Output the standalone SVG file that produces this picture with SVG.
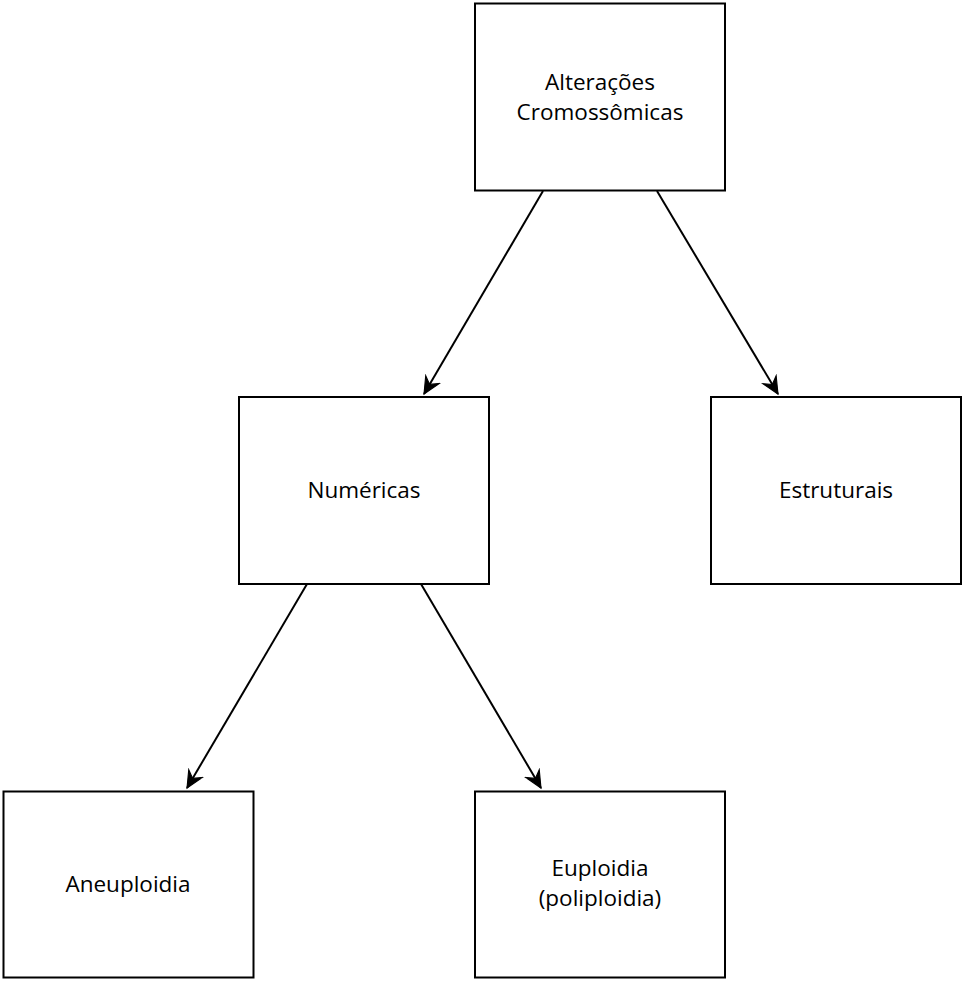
<svg xmlns="http://www.w3.org/2000/svg" width="967" height="982" viewBox="0 0 967 982">
<style>
.box{fill:#fff;stroke:#000;stroke-width:2}
.lbl{font-family:"Open Sans","Noto Sans",sans-serif;font-size:22.5px;fill:#000;text-anchor:middle}
.edge{stroke:#000;stroke-width:2;fill:none;marker-end:url(#arr)}
</style>
<defs>
<marker id="arr" markerUnits="userSpaceOnUse" markerWidth="20" markerHeight="20" viewBox="-16 -8 18 16" refX="0" refY="0" orient="auto">
<path d="M0,0 L-15,-7 L-10,0 L-15,7 Z" fill="#000" stroke="#000" stroke-width="1"/>
</marker>
</defs>
<rect width="967" height="982" fill="#fff"/>
<g id="edges">
<path class="edge" d="M543,191 L424,394"/>
<path class="edge" d="M657,191 L778,394"/>
<path class="edge" d="M307,584 L187,788"/>
<path class="edge" d="M421,584 L541,788"/>
</g>
<g id="n1"><rect class="box" x="475" y="3.5" width="250" height="187"/><text class="lbl" x="600" y="90">Alterações</text><text class="lbl" x="600" y="120">Cromossômicas</text></g>
<g id="n2"><rect class="box" x="239" y="397" width="250" height="187"/><text class="lbl" x="364" y="498">Numéricas</text></g>
<g id="n3"><rect class="box" x="711" y="397" width="250" height="187"/><text class="lbl" x="836" y="498">Estruturais</text></g>
<g id="n4"><rect class="box" x="3.5" y="791.5" width="250" height="186"/><text class="lbl" x="128" y="892">Aneuploidia</text></g>
<g id="n5"><rect class="box" x="475" y="791.5" width="250" height="186"/><text class="lbl" x="600" y="876">Euploidia</text><text class="lbl" x="600" y="906">(poliploidia)</text></g>
</svg>
